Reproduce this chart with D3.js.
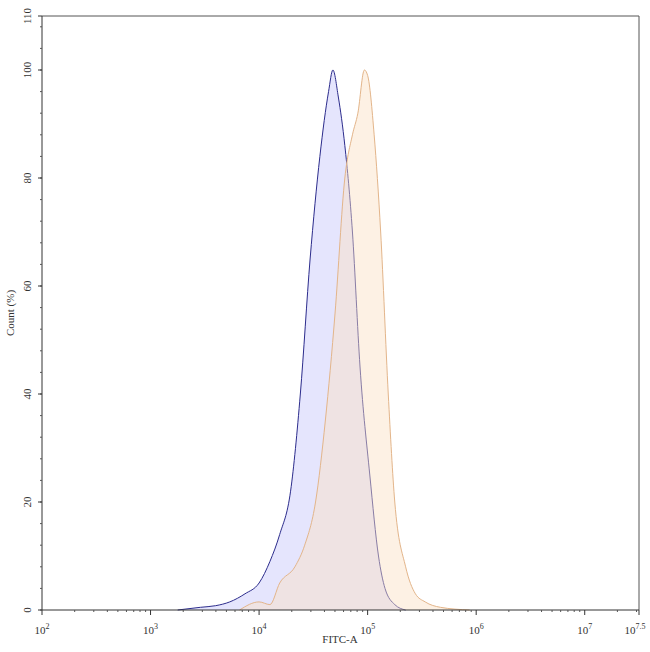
<!DOCTYPE html>
<html><head><meta charset="utf-8">
<script src="https://cdn.jsdelivr.net/npm/d3@7"></script>
<style>body{margin:0;background:#fff}text{font-family:"Liberation Serif",serif;fill:#333}</style>
</head><body><svg id="c" width="650" height="652"></svg>
<script>
// log10(FITC-A) vs count (%)
const blueX = [3.25,3.46,3.6,3.73,3.87,4.0,4.1,4.19,4.29,4.38,4.47,4.56,4.64,4.68,4.73,4.79,4.86,4.93,5.02,5.1,5.16,5.25,5.35];
const blueY = [0,0.5,0.8,1.5,3,5,9,14,22,40,65,84,96,100,95,86,70,45,25,10,4,1,0];
const orangeX = [3.82,4.0,4.1,4.19,4.33,4.42,4.52,4.61,4.7,4.79,4.86,4.91,4.97,5.0,5.06,5.12,5.19,5.25,5.35,5.44,5.53,5.67,5.94];
const orangeY = [0,1.5,1,5,8,12,20,35,55,80,88,92,100,99,88,70,40,20,8,3,1.5,0.5,0];
const xMajor = [2,3,4,5,6,7];
const yMajor = [0,20,40,60,80,100,110];

const svg = d3.select("#c");
const x = d3.scaleLinear().domain([2,7.5]).range([42,639]);
const y = d3.scaleLinear().domain([0,110]).range([610,16]);

const area = d3.area().x(d=>x(d[0])).y0(y(0)).y1(d=>y(d[1])).curve(d3.curveMonotoneX);
const line = d3.line().x(d=>x(d[0])).y(d=>y(d[1])).curve(d3.curveMonotoneX);
const series = [
  {xs: blueX, ys: blueY, fill: "rgba(190,190,250,0.4)", stroke: "#2c2c8c"},
  {xs: orangeX, ys: orangeY, fill: "rgba(250,225,195,0.45)", stroke: "#e3b58a"}
];
series.forEach(s => {
  const pts = s.xs.map((v,i)=>[v,s.ys[i]]);
  svg.append("path").attr("d", area(pts)).attr("fill", s.fill);
  svg.append("path").attr("d", line(pts)).attr("fill","none").attr("stroke",s.stroke).attr("stroke-width",1);
});

// frame
svg.append("path").attr("d",`M42,16H639V610`).attr("fill","none").attr("stroke","#555");

// x axis
const minors = [];
for (let d=2; d<7.5; d++) for (let k=2;k<10;k++){const v=d+Math.log10(k); if(v<7.5) minors.push(v);}
const gx = svg.append("g").attr("transform","translate(0,610)");
gx.append("line").attr("x1",42).attr("x2",639).attr("stroke","#333");
gx.selectAll(".mi").data(minors).join("line").attr("x1",x).attr("x2",x).attr("y2",2).attr("stroke","#555");
gx.selectAll(".ma").data(xMajor.concat([7.5])).join("line").attr("x1",x).attr("x2",x).attr("y2",5).attr("stroke","#333");
const xl = gx.selectAll(".lb").data(xMajor.concat([7.5])).join("text").attr("x",d=>x(d)+(d===7.5?-4:0)).attr("y",24).attr("text-anchor","middle").attr("font-size",11);
xl.text("10").append("tspan").attr("dy",-5).attr("font-size",8).text(d=>d);
svg.append("text").attr("x",340).attr("y",643).attr("text-anchor","middle").attr("font-size",11).text("FITC-A");

// y axis
const gy = svg.append("g");
gy.append("line").attr("x1",42).attr("x2",42).attr("y1",16).attr("y2",610).attr("stroke","#333");
gy.selectAll(".mi").data(d3.range(0,110,4)).join("line").attr("x1",40).attr("x2",42).attr("y1",y).attr("y2",y).attr("stroke","#555");
gy.selectAll(".ma").data(yMajor).join("line").attr("x1",38).attr("x2",42).attr("y1",y).attr("y2",y).attr("stroke","#333");
gy.selectAll(".lb").data(yMajor).join("text").attr("transform",d=>`translate(31,${y(d)}) rotate(-90)`).attr("text-anchor","middle").attr("font-size",11).text(d=>d);
svg.append("text").attr("transform","translate(14,313) rotate(-90)").attr("text-anchor","middle").attr("font-size",11).text("Count (%)");
</script></body></html>
